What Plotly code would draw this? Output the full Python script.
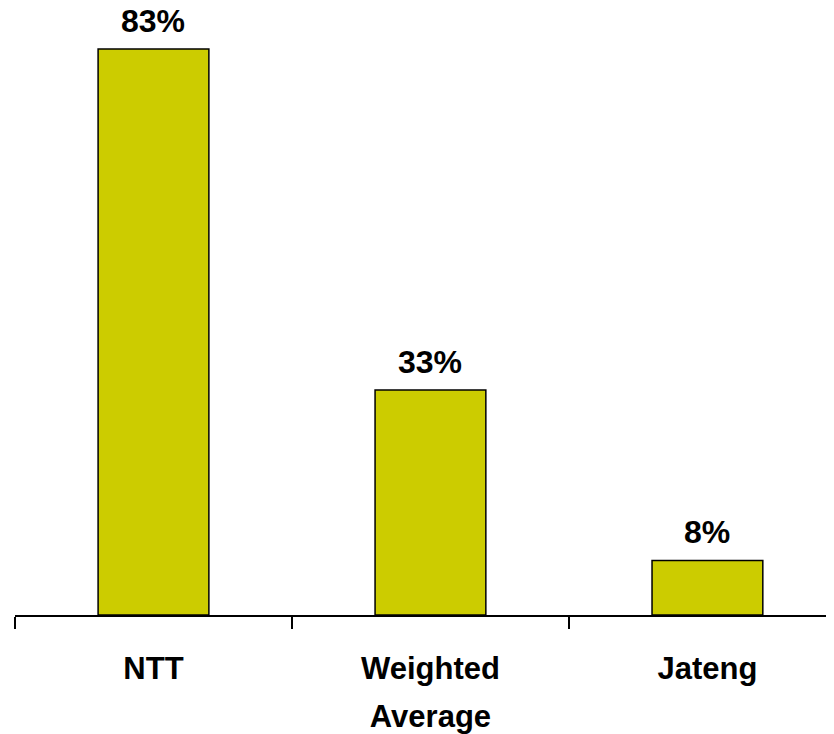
import plotly.graph_objects as go

categories = ["NTT", "Weighted Average", "Jateng"]
tick_labels = ["NTT", "Weighted<br>Average", "Jateng"]
values = [83, 33, 8]
value_labels = [f"{v}%" for v in values]

FONT = "Arial, 'Liberation Sans', sans-serif"

fig = go.Figure(
    go.Bar(
        x=categories,
        y=values,
        width=0.4,
        marker=dict(color="#CCCC00", line=dict(color="black", width=1.5)),
        hoverinfo="x+y",
    )
)

for cat, val, lab in zip(categories, values, value_labels):
    fig.add_annotation(
        x=cat,
        y=val,
        xref="x",
        yref="y",
        text=lab,
        showarrow=False,
        yanchor="bottom",
        yshift=8,
        font=dict(family=FONT, size=32, color="black", weight="bold"),
    )

# ticktext lines wrapped in a smaller span so the line pitch follows the larger base font
ticktext = [
    "<br>".join(f"<span style='font-size:31px'>{ln}</span>" for ln in lab.split("<br>"))
    for lab in tick_labels
]

fig.update_layout(
    width=834,
    height=734,
    margin=dict(l=7, r=8, t=7, b=127),
    paper_bgcolor="white",
    plot_bgcolor="white",
    showlegend=False,
    xaxis=dict(
        type="category",
        range=[-0.5, 2.457],
        tickson="boundaries",
        tickmode="array",
        tickvals=categories,
        ticktext=ticktext,
        ticks="outside",
        ticklen=12,
        tickwidth=1.5,
        tickcolor="black",
        showline=True,
        linecolor="black",
        linewidth=1.5,
        showgrid=False,
        ticklabelstandoff=18,
        tickfont=dict(family=FONT, size=37, color="black", weight="bold"),
        fixedrange=True,
    ),
    yaxis=dict(
        range=[0, 88],
        visible=False,
        showgrid=False,
        zeroline=False,
        fixedrange=True,
    ),
)

fig.write_html("out.html")
